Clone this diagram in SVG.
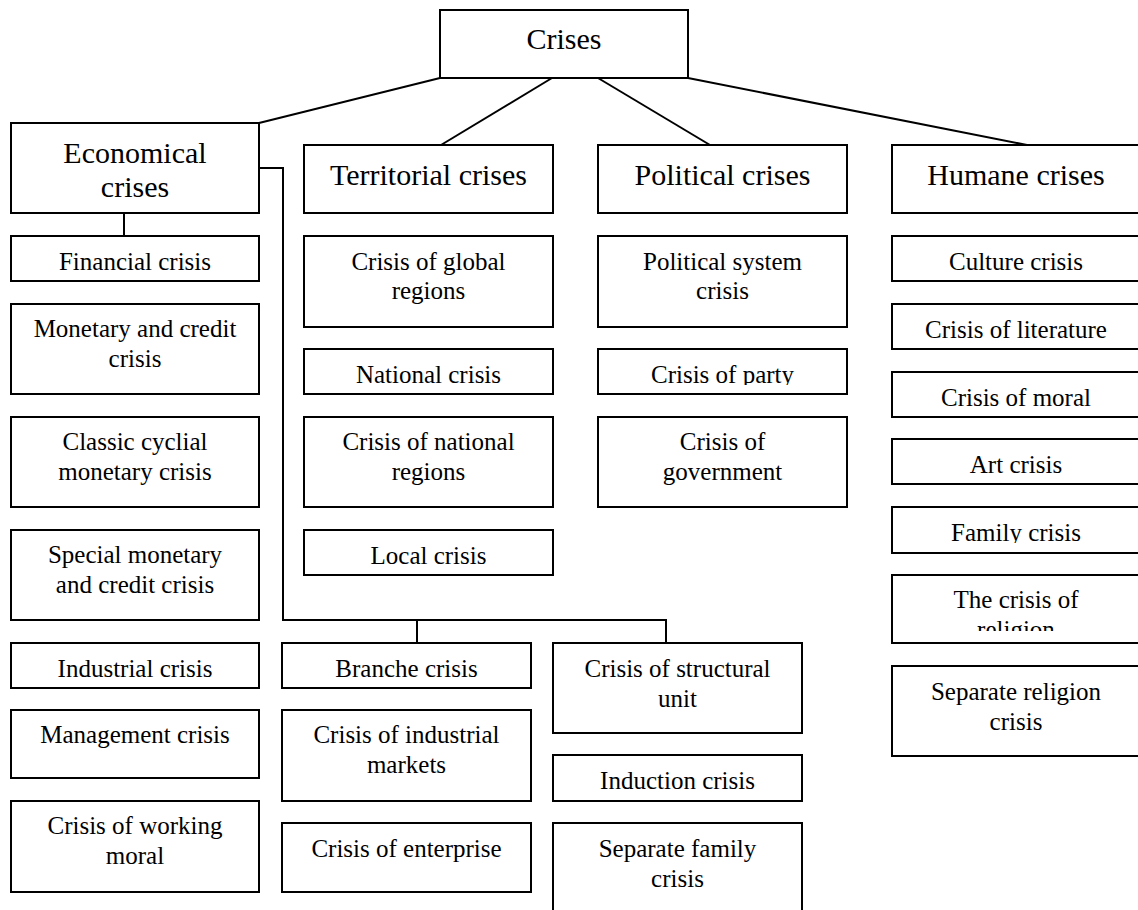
<svg xmlns="http://www.w3.org/2000/svg" width="1138" height="910" viewBox="0 0 1138 910">
<style>
rect{fill:#fff;stroke:#000;stroke-width:2}
text{font-family:"Liberation Serif","Times New Roman",serif;fill:#000;text-anchor:middle}
.h{font-size:30px}
.c{font-size:25px}
.ln{fill:none;stroke:#000;stroke-width:2}
</style>
<defs>
<clipPath id="clipParty"><rect x="598" y="349" width="249" height="36"/></clipPath>
<clipPath id="clipFamily"><rect x="892" y="507" width="250" height="36"/></clipPath>
<clipPath id="clipReligion"><rect x="892" y="575" width="250" height="56"/></clipPath>
</defs>
<g id="connectors">
<line class="ln" x1="440" y1="78" x2="259" y2="123"/>
<line class="ln" x1="552" y1="78" x2="441" y2="145"/>
<line class="ln" x1="598" y1="78" x2="710" y2="145"/>
<line class="ln" x1="688" y1="78" x2="1027" y2="145"/>
<line class="ln" x1="124" y1="213" x2="124" y2="236"/>
<polyline class="ln" points="259,168 283,168 283,620 666,620 666,643"/>
<line class="ln" x1="417" y1="620" x2="417" y2="643"/>
</g>
<g id="crises"><rect x="440" y="10" width="248" height="68"/><text class="h" x="564" y="49">Crises</text></g>
<g id="economical"><rect x="11" y="123" width="248" height="90"/><text class="h" x="135" y="163">Economical</text><text class="h" x="135" y="197">crises</text></g>
<g id="territorial"><rect x="304" y="145" width="249" height="68"/><text class="h" x="428.5" y="185">Territorial crises</text></g>
<g id="political"><rect x="598" y="145" width="249" height="68"/><text class="h" x="722.5" y="185">Political crises</text></g>
<g id="humane"><rect x="892" y="145" width="250" height="68"/><text class="h" x="1016" y="185">Humane crises</text></g>

<g id="financial"><rect x="11" y="236" width="248" height="45"/><text class="c" x="135" y="270">Financial crisis</text></g>
<g id="monetary"><rect x="11" y="304" width="248" height="90"/><text class="c" x="135" y="337">Monetary and credit</text><text class="c" x="135" y="367">crisis</text></g>
<g id="classic"><rect x="11" y="417" width="248" height="90"/><text class="c" x="135" y="450">Classic cyclial</text><text class="c" x="135" y="480">monetary crisis</text></g>
<g id="special"><rect x="11" y="530" width="248" height="90"/><text class="c" x="135" y="563">Special monetary</text><text class="c" x="135" y="593">and credit crisis</text></g>
<g id="industrial"><rect x="11" y="643" width="248" height="45"/><text class="c" x="135" y="677">Industrial crisis</text></g>
<g id="management"><rect x="11" y="710" width="248" height="68"/><text class="c" x="135" y="743">Management crisis</text></g>
<g id="workingmoral"><rect x="11" y="801" width="248" height="91"/><text class="c" x="135" y="834">Crisis of working</text><text class="c" x="135" y="864">moral</text></g>

<g id="globalregions"><rect x="304" y="236" width="249" height="91"/><text class="c" x="428.5" y="270">Crisis of global</text><text class="c" x="428.5" y="299">regions</text></g>
<g id="national"><rect x="304" y="349" width="249" height="45"/><text class="c" x="428.5" y="383">National crisis</text></g>
<g id="nationalregions"><rect x="304" y="417" width="249" height="90"/><text class="c" x="428.5" y="450">Crisis of national</text><text class="c" x="428.5" y="480">regions</text></g>
<g id="local"><rect x="304" y="530" width="249" height="45"/><text class="c" x="428.5" y="564">Local crisis</text></g>

<g id="politicalsystem"><rect x="598" y="236" width="249" height="91"/><text class="c" x="722.5" y="270">Political system</text><text class="c" x="722.5" y="299">crisis</text></g>
<g id="party"><rect x="598" y="349" width="249" height="45"/><text class="c" x="722.5" y="383" clip-path="url(#clipParty)">Crisis of party</text></g>
<g id="government"><rect x="598" y="417" width="249" height="90"/><text class="c" x="722.5" y="450">Crisis of</text><text class="c" x="722.5" y="480">government</text></g>

<g id="culture"><rect x="892" y="236" width="250" height="45"/><text class="c" x="1016" y="270">Culture crisis</text></g>
<g id="literature"><rect x="892" y="304" width="250" height="45"/><text class="c" x="1016" y="338">Crisis of literature</text></g>
<g id="moral"><rect x="892" y="372" width="250" height="45"/><text class="c" x="1016" y="406">Crisis of moral</text></g>
<g id="art"><rect x="892" y="439" width="250" height="45"/><text class="c" x="1016" y="473">Art crisis</text></g>
<g id="family"><rect x="892" y="507" width="250" height="46"/><text class="c" x="1016" y="541" clip-path="url(#clipFamily)">Family crisis</text></g>
<g id="religion"><rect x="892" y="575" width="250" height="68"/><g clip-path="url(#clipReligion)"><text class="c" x="1016" y="608">The crisis of</text><text class="c" x="1016" y="638">religion</text></g></g>
<g id="separatereligion"><rect x="892" y="666" width="250" height="90"/><text class="c" x="1016" y="700">Separate religion</text><text class="c" x="1016" y="730">crisis</text></g>

<g id="branche"><rect x="282" y="643" width="249" height="45"/><text class="c" x="406.5" y="677">Branche crisis</text></g>
<g id="industrialmarkets"><rect x="282" y="710" width="249" height="91"/><text class="c" x="406.5" y="743">Crisis of industrial</text><text class="c" x="406.5" y="773">markets</text></g>
<g id="enterprise"><rect x="282" y="823" width="249" height="69"/><text class="c" x="406.5" y="857">Crisis of enterprise</text></g>

<g id="structural"><rect x="553" y="643" width="249" height="90"/><text class="c" x="677.5" y="677">Crisis of structural</text><text class="c" x="677.5" y="707">unit</text></g>
<g id="induction"><rect x="553" y="755" width="249" height="46"/><text class="c" x="677.5" y="789">Induction crisis</text></g>
<g id="separatefamily"><rect x="553" y="823" width="249" height="100"/><text class="c" x="677.5" y="857">Separate family</text><text class="c" x="677.5" y="887">crisis</text></g>
</svg>
